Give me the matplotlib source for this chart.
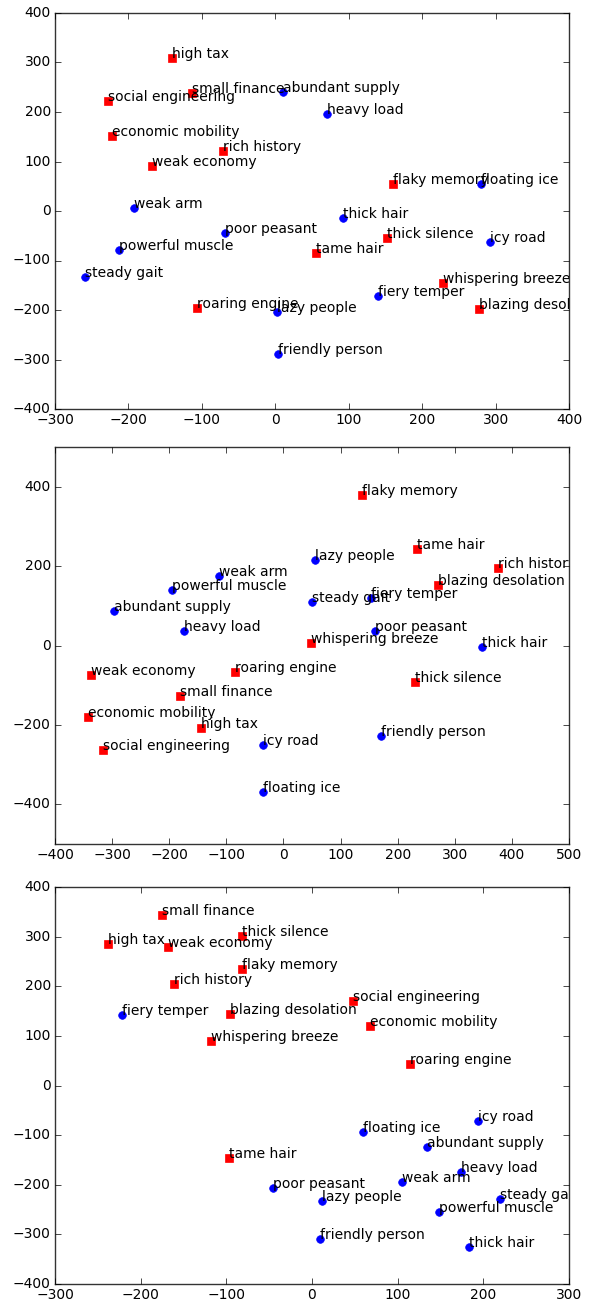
import matplotlib
matplotlib.use("Agg")
import matplotlib.pyplot as plt
import numpy as np

plt.style.use("classic")
plt.rcParams["font.family"] = ["DejaVu Sans"]

# words and their group (red squares vs blue circles)
words = ["high tax", "small finance", "social engineering", "economic mobility",
         "rich history", "weak economy", "flaky memory", "thick silence",
         "tame hair", "whispering breeze", "roaring engine", "blazing desolation",
         "abundant supply", "heavy load", "floating ice", "weak arm",
         "thick hair", "poor peasant", "icy road", "powerful muscle",
         "steady gait", "fiery temper", "lazy people", "friendly person"]
is_red = [True] * 12 + [False] * 12

# panel 1 coordinates
x1 = [-140, -113, -228, -223, -71, -168, 160, 152, 55, 228, -106, 277,
      11, 71, 280, -193, 92, -69, 292, -213, -259, 140, 3, 4]
y1 = [310, 239, 223, 152, 122, 91, 54, -54, -85, -146, -196, -198,
      240, 196, 55, 6, -14, -45, -62, -79, -134, -172, -204, -289]

# panel 2 coordinates
x2 = [-144, -182, -316, -343, 376, -337, 137, 230, 233, 49, -84, 271,
      -296, -174, -35, -113, 347, 160, -35, -196, 50, 154, 56, 170]
y2 = [-208, -127, -263, -179, 194, -75, 379, -91, 243, 7, -66, 153,
      86, 36, -369, 175, -5, 36, -251, 140, 109, 119, 216, -229]

# panel 3 coordinates
x3 = [-238, -175, 48, 68, -161, -168, -82, -82, -97, -118, 114, -96,
      134, 174, 59, 105, 183, -45, 194, 148, 220, -222, 12, 9]
y3 = [285, 343, 171, 119, 204, 280, 234, 302, -147, 89, 44, 144,
      -123, -174, -94, -195, -325, -206, -72, -255, -229, 142, -233, -310]

panels = [
    (x1, y1, (-300, 400), (-400, 400), np.arange(-300, 401, 100), np.arange(-400, 401, 100)),
    (x2, y2, (-400, 500), (-500, 500), np.arange(-400, 501, 100), np.arange(-400, 401, 200)),
    (x3, y3, (-300, 300), (-400, 400), np.arange(-300, 301, 100), np.arange(-400, 401, 100)),
]

W, H = 589, 1301
fig = plt.figure(figsize=(W / 100, H / 100), dpi=100, facecolor="white")
boxes = [(13, 409), (447, 844), (887, 1284)]
left, right = 55, 569

for (xs, ys, xl, yl, xt, yt), (top, bot) in zip(panels, boxes):
    ax = fig.add_axes([left / W, 1 - bot / H, (right - left) / W, (bot - top) / H])
    ax.set_facecolor("white")
    for w, red, x, y in zip(words, is_red, xs, ys):
        if red:
            ax.plot(x, y, "rs", ms=5.5, mec="r")
        else:
            ax.plot(x, y, "bo", ms=5.5, mec="b")
        t = ax.text(x, y, w, fontsize=10, ha="left", va="baseline")
        t.set_clip_box(ax.bbox)
        t.set_clip_on(True)
    ax.set_xlim(*xl)
    ax.set_ylim(*yl)
    ax.set_xticks(xt)
    ax.set_yticks(yt)
    ax.tick_params(labelsize=10, direction="in", length=4, width=0.5, pad=3,
                   top=True, right=True)
    for s in ax.spines.values():
        s.set_linewidth(1.0)
        s.set_color("#333333")

fig.savefig("out.png", dpi=100, facecolor="white")
